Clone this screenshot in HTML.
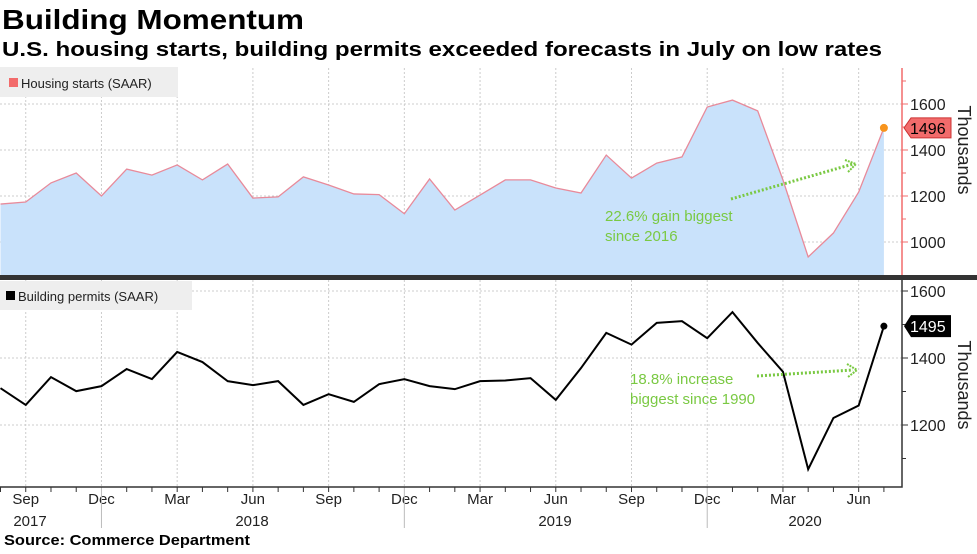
<!DOCTYPE html>
<html><head><meta charset="utf-8"><style>
body{margin:0;background:#fff;width:977px;height:549px;overflow:hidden;font-family:"Liberation Sans",sans-serif}
</style></head><body>
<svg id="chart" width="977" height="549" viewBox="0 0 977 549" xmlns="http://www.w3.org/2000/svg" font-family="Liberation Sans, sans-serif">
<text x="2" y="29" font-size="28" font-weight="bold" fill="#000" textLength="302" lengthAdjust="spacingAndGlyphs">Building Momentum</text>
<text x="2" y="56" font-size="20" font-weight="bold" fill="#000" textLength="880" lengthAdjust="spacingAndGlyphs">U.S. housing starts, building permits exceeded forecasts in July on low rates</text>
<g id="grid"></g>
<g id="top"></g>
<g id="bot"></g>
<g id="axes"></g>
<rect x="0" y="275" width="977" height="5" fill="#333"/>
<rect x="0" y="67" width="178" height="30" fill="#eeeeee"/>
<rect x="9" y="78" width="9" height="9" fill="#f26b6b"/>
<text x="21" y="88" font-size="13" fill="#222">Housing starts (SAAR)</text>
<rect x="0" y="281" width="192" height="29" fill="#eeeeee"/>
<rect x="6" y="291" width="9" height="9" fill="#000"/>
<text x="18" y="301" font-size="13" fill="#222">Building permits (SAAR)</text>
<g>
<text x="605" y="221" font-size="15" fill="#7ac943">22.6% gain biggest</text>
<text x="605" y="241" font-size="15" fill="#7ac943">since 2016</text>
<line x1="731" y1="199" x2="853" y2="164" stroke="#7ac943" stroke-width="3" stroke-dasharray="2,2"/>
<path d="M845,160 L856,164 L848,172" fill="none" stroke="#7ac943" stroke-width="2" stroke-dasharray="2,1"/>
</g>
<g>
<text x="630" y="384" font-size="15" fill="#7ac943">18.8% increase</text>
<text x="630" y="404" font-size="15" fill="#7ac943">biggest since 1990</text>
<line x1="757" y1="376" x2="853" y2="370" stroke="#7ac943" stroke-width="3" stroke-dasharray="2,2"/>
<path d="M847,364 L857,370 L848,377" fill="none" stroke="#7ac943" stroke-width="2" stroke-dasharray="2,1"/>
</g>
<text x="4" y="545" font-size="15" font-weight="bold" fill="#000" textLength="246" lengthAdjust="spacingAndGlyphs">Source: Commerce Department</text>
</svg>
<script>
const months = ["Aug","Sep","Oct","Nov","Dec","Jan","Feb","Mar","Apr","May","Jun","Jul","Aug","Sep","Oct","Nov","Dec","Jan","Feb","Mar","Apr","May","Jun","Jul","Aug","Sep","Oct","Nov","Dec","Jan","Feb","Mar","Apr","May","Jun","Jul"];
const housingStarts = [1165,1174,1257,1300,1200,1317,1291,1335,1270,1339,1191,1196,1283,1248,1209,1206,1123,1274,1139,1204,1270,1270,1235,1213,1378,1278,1343,1370,1587,1617,1570,1270,935,1039,1217,1496];
const buildingPermits = [1310,1260,1343,1301,1316,1367,1337,1418,1388,1331,1319,1331,1260,1292,1269,1322,1337,1316,1307,1331,1333,1340,1275,1370,1475,1440,1505,1510,1459,1537,1445,1359,1068,1221,1258,1495];
const topTicks = [1000,1200,1400,1600];
const botTicks = [1200,1400,1600];
const years = ["2017","2018","2019","2020"];
const NS="http://www.w3.org/2000/svg";
const xS = i => 0.5 + i*25.24;
const yTop = v => 242 - (v-1000)*0.23;
const yBot = v => 291 + (1600-v)*0.335;
function mk(tag, attrs, parent, txt){const e=document.createElementNS(NS,tag);for(const k in attrs)e.setAttribute(k,attrs[k]);if(txt!==undefined)e.textContent=txt;document.getElementById(parent).appendChild(e);return e;}
months.forEach((m,i)=>{
  if(["Sep","Dec","Mar","Jun"].includes(m)){
    const x=xS(i);
    const g1=mk('line',{x1:x,y1:68,x2:x,y2:275,stroke:'#ccc','stroke-dasharray':'2,2'},'grid');
    
    
    const g2=mk('line',{x1:x,y1:280,x2:x,y2:487,stroke:'#ccc','stroke-dasharray':'2,2'},'grid');
    
    
    const t=mk('text',{x:x,y:504,'font-size':15,'text-anchor':'middle',fill:'#222'},'axes',m);
    
    
  }
  const tk=mk('line',{x1:xS(i),y1:487,x2:xS(i),y2:m==="Dec"?528:492,stroke:m==="Dec"?'#bbb':'#333'},'axes');
  
  
});
const yearX=[30,252,555,805];
years.forEach((y,i)=>{const t=mk('text',{x:yearX[i],y:526,'font-size':15,'text-anchor':'middle',fill:'#222'},'axes',y);

});
topTicks.forEach(v=>{const y=yTop(v);
 const g=mk('line',{x1:0,y1:y,x2:902,y2:y,stroke:'#ccc','stroke-dasharray':'2,2'},'grid');
 
 
 mk('line',{x1:902,y1:y,x2:908,y2:y,stroke:'#f26b6b'},'axes');
 const t=mk('text',{x:910,y:y+6,'font-size':16,fill:'#222'},'axes',v);
 
 });
[1100,1300,1500,1700].forEach(v=>mk('line',{x1:902,y1:yTop(v),x2:906,y2:yTop(v),stroke:'#f26b6b'},'axes'));
botTicks.forEach(v=>{const y=yBot(v);
 const g=mk('line',{x1:0,y1:y,x2:902,y2:y,stroke:'#ccc','stroke-dasharray':'2,2'},'grid');
 
 
 mk('line',{x1:902,y1:y,x2:908,y2:y,stroke:'#333'},'axes');
 const t=mk('text',{x:910,y:y+6,'font-size':16,fill:'#222'},'axes',v);
 
 });
[1100,1300,1500].forEach(v=>mk('line',{x1:902,y1:yBot(v),x2:906,y2:yBot(v),stroke:'#333'},'axes'));
const ta=mk('line',{x1:902,y1:68,x2:902,y2:275,stroke:'#f26b6b','stroke-width':1.5},'axes');


const ba=mk('path',{d:'M902,280 L902,487 L0,487',fill:'none',stroke:'#333','stroke-width':1.5},'axes');


[["top-y-title",150],["bottom-y-title",385]].forEach(([n,cy])=>{const t=mk('text',{x:958,y:cy,'font-size':18,fill:'#222','text-anchor':'middle',transform:`rotate(90 958 ${cy})`},'axes','Thousands');
 
 });
let pts=housingStarts.map((v,i)=>`${xS(i)},${yTop(v)}`);
const area=mk('polygon',{points:`${xS(0)},275 ${pts.join(' ')} ${xS(housingStarts.length-1)},275`,fill:'#c9e2fb'},'top');


const hl=mk('polyline',{points:pts.join(' '),fill:'none',stroke:'#e88a9a','stroke-width':1.3},'top');


const last=housingStarts.length-1;
const hd=mk('circle',{cx:xS(last),cy:yTop(housingStarts[last]),r:4,fill:'#f7941d'},'top');


let ly=yTop(housingStarts[last]);
const hb=mk('path',{d:`M904,${ly} L911,${ly-10} L951,${ly-10} L951,${ly+10} L911,${ly+10} Z`,fill:'#f26b6b',stroke:'#c33'},'axes');


mk('text',{x:910,y:ly+6,'font-size':16,fill:'#000'},'axes',housingStarts[last]);
let pts2=buildingPermits.map((v,i)=>`${xS(i)},${yBot(v)}`);
const bl=mk('polyline',{points:pts2.join(' '),fill:'none',stroke:'#000','stroke-width':2},'bot');


const bd=mk('circle',{cx:xS(last),cy:yBot(buildingPermits[last]),r:3.5,fill:'#000'},'bot');


ly=yBot(buildingPermits[last]);
const bb=mk('path',{d:`M904,${ly} L911,${ly-11} L951,${ly-11} L951,${ly+11} L911,${ly+11} Z`,fill:'#000'},'axes');


mk('text',{x:910,y:ly+6,'font-size':16,fill:'#fff'},'axes',buildingPermits[last]);
</script>
</body></html>
